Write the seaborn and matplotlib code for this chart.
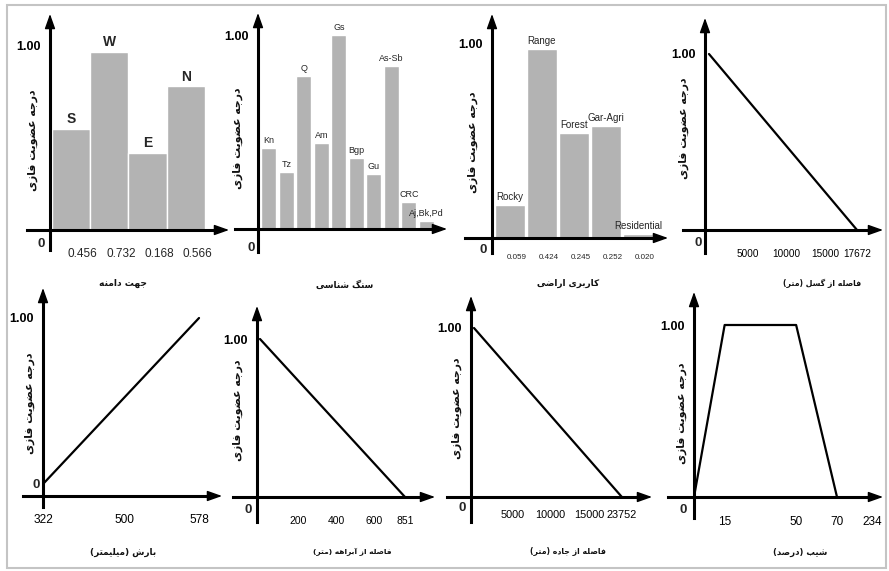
import matplotlib
matplotlib.use("Agg")
import matplotlib.pyplot as plt
from matplotlib.patches import Rectangle
import seaborn as sns
import pandas as pd
import numpy as np

# ---------------- data ----------------
aspect_names = ["S", "W", "E", "N"]
aspect_vals = [0.55, 0.97, 0.42, 0.78]
aspect_ticks = ["0.456", "0.732", "0.168", "0.566"]

litho_names = ["Kn", "Tz", "Q", "Am", "Gs", "Bgp", "Gu", "As-Sb", "CRC", "Aj,Bk,Pd"]
litho_vals = [0.42, 0.295, 0.79, 0.445, 1.0, 0.365, 0.285, 0.84, 0.14, 0.04]
litho_ticks = ["0.41", "0.28", "0.75", "0.49", "0.22", "0.37", "0.21", "0.78", "0.19", "0.03"]

landuse_names = ["Rocky", "Range", "Forest", "Gar-Agri", "Residential"]
landuse_vals = [0.17, 0.97, 0.54, 0.575, 0.02]
landuse_ticks = ["0.059", "0.424", "0.245", "0.252", "0.020"]

fault_x = [0, 17672]
fault_y = [1, 0]
fault_ticks = [5000, 10000, 15000, 17672]

rain_x = [322, 578]
rain_y = [0, 1]
rain_ticks = [322, 500, 578]

stream_x = [0, 851]
stream_y = [1, 0]
stream_ticks = [200, 400, 600, 851]

road_x = [0, 23752]
road_y = [1, 0]
road_ticks = [5000, 10000, 15000, 23752]

slope_x = [0, 15, 50, 70]
slope_y = [0, 1, 1, 0]
slope_ticks = [15, 50, 70, 234]

xlabels = ["جهت دامنه", "سنگ شناسی", "کاربری اراضی", "فاصله از گسل (متر)",
           "بارش (میلیمتر)", "فاصله از آبراهه (متر)", "فاصله از جاده (متر)", "شیب (درصد)"]
ylabel_txt = "درجه عضویت فازی"

# ---------------- Persian shaping for display ----------------
AR = {
    'ا': (0xFE8D, 0xFE8E, None, None), 'آ': (0xFE81, 0xFE82, None, None),
    'ب': (0xFE8F, 0xFE90, 0xFE91, 0xFE92), 'ت': (0xFE95, 0xFE96, 0xFE97, 0xFE98),
    'ج': (0xFE9D, 0xFE9E, 0xFE9F, 0xFEA0), 'ح': (0xFEA1, 0xFEA2, 0xFEA3, 0xFEA4),
    'د': (0xFEA9, 0xFEAA, None, None), 'ر': (0xFEAD, 0xFEAE, None, None),
    'ز': (0xFEAF, 0xFEB0, None, None), 'س': (0xFEB1, 0xFEB2, 0xFEB3, 0xFEB4),
    'ش': (0xFEB5, 0xFEB6, 0xFEB7, 0xFEB8), 'ص': (0xFEB9, 0xFEBA, 0xFEBB, 0xFEBC),
    'ض': (0xFEBD, 0xFEBE, 0xFEBF, 0xFEC0), 'ع': (0xFEC9, 0xFECA, 0xFECB, 0xFECC),
    'ف': (0xFED1, 0xFED2, 0xFED3, 0xFED4), 'ل': (0xFEDD, 0xFEDE, 0xFEDF, 0xFEE0),
    'م': (0xFEE1, 0xFEE2, 0xFEE3, 0xFEE4), 'ن': (0xFEE5, 0xFEE6, 0xFEE7, 0xFEE8),
    'ه': (0xFEE9, 0xFEEA, 0xFEEB, 0xFEEC), 'و': (0xFEED, 0xFEEE, None, None),
    'ی': (0xFBFC, 0xFBFD, 0xFBFE, 0xFBFF), 'ک': (0xFB8E, 0xFB8F, 0xFB90, 0xFB91),
    'گ': (0xFB92, 0xFB93, 0xFB94, 0xFB95),
}


def shape(s):
    def dual(c):
        return c in AR and AR[c][2] is not None
    out = []
    for i, c in enumerate(s):
        if c not in AR:
            out.append(c)
            continue
        prev = s[i - 1] if i > 0 else ''
        nxt = s[i + 1] if i + 1 < len(s) else ''
        cp = dual(prev)
        cn = dual(c) and (nxt in AR)
        f = AR[c]
        g = f[3] if (cp and cn) else f[1] if cp else f[2] if cn else f[0]
        out.append(chr(g))
    vis = ''.join(reversed(out))
    return vis.translate(str.maketrans('()', ')('))


# ---------------- figure ----------------
sns.set_style("white")
plt.rcParams['font.family'] = ['Liberation Sans', 'DejaVu Sans']
W, H = 889, 571
fig = plt.figure(figsize=(W / 100, H / 100), dpi=100)
fig.patch.set_facecolor('white')
fig.patches.append(Rectangle((7 / W, 1 - 568 / H), 879 / W, 563 / H, transform=fig.transFigure,
                             fill=False, edgecolor='#c4c4c4', linewidth=1.5))


def ftxt(x, y, s, **kw):
    fig.text(x / W, 1 - y / H, s, **kw)


def new_ax(L, R, T, B):
    ax = fig.add_axes([L / W, 1 - B / H, (R - L) / W, (B - T) / H])
    ax.patch.set_alpha(0)
    return ax


def break_funcs(b, k):
    def fwd(x):
        x = np.asarray(x, dtype=float)
        return np.where(x <= b, x, b + (x - b) * k)

    def inv(t):
        t = np.asarray(t, dtype=float)
        return np.where(t <= b, t, b + (t - b) / k)
    return fwd, inv


def finish(ax, L, R, T, B, ox, oy, xa, ya, brk=None):
    if brk is not None:
        fwd, inv = break_funcs(*brk)
        ax.set_xscale('function', functions=(fwd, inv))
    else:
        fwd = inv = (lambda v: np.asarray(v, dtype=float))
    (v1, p1), (v2, p2) = xa
    t1, t2 = float(fwd(v1)), float(fwd(v2))
    st = (t2 - t1) / (p2 - p1)
    fx = lambda p: float(inv(t1 + (p - p1) * st))
    (u1, q1), (u2, q2) = ya
    sy = (u2 - u1) / (q2 - q1)
    fy = lambda q: u1 + (q - q1) * sy
    ax.set_xlim(fx(L), fx(R))
    ax.set_ylim(fy(B), fy(T))
    xo, yo = fx(ox), fy(oy)
    ax.spines['left'].set_position(('data', xo))
    ax.spines['bottom'].set_position(('data', yo))
    ax.spines['bottom'].set_bounds(fx(L), fx(R - 8))
    ax.spines['left'].set_bounds(fy(B), fy(T + 8))
    for s in ('left', 'bottom'):
        ax.spines[s].set_visible(True)
        ax.spines[s].set_linewidth(2.2)
        ax.spines[s].set_color('black')
    for s in ('top', 'right'):
        ax.spines[s].set_visible(False)
    ap = dict(arrowstyle='-|>,head_length=0.9,head_width=0.32', color='k', lw=1,
              shrinkA=0, shrinkB=0, mutation_scale=10)
    ax.annotate('', xy=(fx(R), yo), xytext=(fx(R - 12), yo), arrowprops=ap, annotation_clip=False)
    ax.annotate('', xy=(xo, fy(T)), xytext=(xo, fy(T + 12)), arrowprops=ap, annotation_clip=False)
    ax.set_xlabel('')
    ax.set_ylabel('')
    ax.grid(False)
    ax.set_yticks([1.0])
    ax.set_yticklabels(['1.00'], fontsize=9, fontweight='bold')
    ax.tick_params(axis='y', length=6, width=1.5, direction='out', pad=0.5, colors='black')
    ax.tick_params(axis='x', which='major', length=6, width=1.8, direction='out', colors='black')
    ax.tick_params(axis='x', which='minor', length=0)
    return xo, yo


persian = dict(family=['DejaVu Sans'], fontweight='bold', color='#111111')
BAR = '#b3b3b3'


def bar_panel(rect, ox, oy, xa, ya, names, vals, ticks, width, tick_fs, name_fs, name_bold,
              label_off, tick_all, pad):
    L, R, T, B = rect
    ax = new_ax(L, R, T, B)
    df = pd.DataFrame({'name': names, 'val': vals})
    sns.barplot(data=df, x='name', y='val', color=BAR, saturation=1, width=width,
                edgecolor='white', linewidth=1.0, errorbar=None, ax=ax)
    finish(ax, L, R, T, B, ox, oy, xa, ya)
    n = len(names)
    nt = n if tick_all else n - 1
    ax.set_xticks([i + 0.5 for i in range(nt)])
    ax.set_xticklabels([''] * nt)
    ax.tick_params(axis='x', which='major', length=7)
    ax.set_xticks([i + label_off for i in range(n)], minor=True)
    ax.set_xticklabels(ticks, minor=True, fontsize=tick_fs)
    ax.tick_params(axis='x', which='minor', length=0, pad=pad)
    for i, (nm, v) in enumerate(zip(names, vals)):
        ax.text(i, v + 0.015, nm, ha='center', va='bottom', fontsize=name_fs,
                fontweight='bold' if name_bold else 'normal')
    return ax


def line_panel(rect, ox, oy, xa, ya, xs, ys, ticks, tick_fs, brk, extras, pad):
    L, R, T, B = rect
    ax = new_ax(L, R, T, B)
    sns.lineplot(x=xs, y=ys, color='black', linewidth=1.6, estimator=None, sort=False, ax=ax)
    finish(ax, L, R, T, B, ox, oy, xa, ya, brk=brk)
    pos = list(ticks)
    labels = [str(t) for t in ticks]
    if extras:
        a, b = ticks[-2], ticks[-1]
        pos = list(ticks[:-1]) + [a + (b - a) * 0.4, a + (b - a) * 0.7] + [b]
        labels = labels[:-1] + ['', ''] + [labels[-1]]
    ax.set_xticks(pos)
    ax.set_xticklabels(labels, fontsize=tick_fs)
    ax.xaxis.set_minor_locator(matplotlib.ticker.NullLocator())
    ax.tick_params(axis='x', which='major', pad=pad)
    return ax


# ---- top row ----
bar_panel((27, 229, 14, 250), 50, 230, ((-0.5, 52), (3.5, 205)), ((0, 230), (1, 46)),
          aspect_names, aspect_vals, aspect_ticks, 1.0, 8.5, 10, True, 0.3, True, 13)
bar_panel((235, 447, 13, 252), 258, 229, ((-0.5, 260), (9.5, 435)), ((0, 229), (1, 35)),
          litho_names, litho_vals, litho_ticks, 0.86, 5.6, 6.5, False, 0.5, True, 15)
bar_panel((465, 668, 14, 253), 492, 238, ((-0.5, 494), (4.5, 654)), ((0, 238), (1, 43)),
          landuse_names, landuse_vals, landuse_ticks, 0.92, 5.8, 7, False, 0.2, False, 11.5)
line_panel((683, 883, 18, 253), 705, 230, ((0, 709), (15000, 825)), ((0, 230), (1, 54)),
           fault_x, fault_y, fault_ticks, 7.2, (15000, 1.55), True, 8)

# ---- bottom row ----
line_panel((23, 222, 288, 507), 43, 496, ((322, 44), (500, 124)), ((0, 483), (1, 318)),
           rain_x, rain_y, rain_ticks, 8.6, (500, 2.14), False, 7)
line_panel((233, 435, 306, 522), 257, 497, ((0, 260), (600, 374)), ((0, 497), (1, 339)),
           stream_x, stream_y, stream_ticks, 7.5, (600, 0.65), True, 8)
line_panel((447, 652, 296, 522), 471, 497, ((0, 474), (15000, 589)), ((0, 497), (1, 328)),
           road_x, road_y, road_ticks, 7.8, (15000, 0.49), True, 3)
line_panel((668, 883, 292, 518), 694, 497, ((0, 694), (70, 837)), ((0, 497), (1, 325)),
           slope_x, slope_y, slope_ticks, 8.5, (70, 0.105), True, 8)

# "0" labels at the origins
for (x, y) in [(41, 244), (251, 248), (483, 250), (698, 243),
               (36, 485), (248, 510), (462, 508), (683, 510)]:
    ftxt(x, y, '0', fontsize=9.5, fontweight='bold', ha='center', va='center')

# axis titles (Persian)
xl_pos = [(123, 283), (345, 285), (568, 283), (822, 283),
          (123, 552), (352, 552), (568, 552), (800, 552)]
xl_fs = [6.6, 6.4, 6.4, 5.6, 6.4, 5.4, 5.6, 6.2]
for (x, y), s, fs in zip(xl_pos, xlabels, xl_fs):
    ftxt(x, y, shape(s), fontsize=fs, ha='center', va='center', **persian)

yl_pos = [(33, 140), (238, 138), (473, 142), (684, 128),
          (30, 403), (238, 410), (457, 408), (682, 413)]
for (x, y) in yl_pos:
    ftxt(x, y, shape(ylabel_txt), fontsize=7.8, rotation=90, ha='center', va='center', **persian)

fig.savefig('out.png', dpi=100, facecolor='white')
